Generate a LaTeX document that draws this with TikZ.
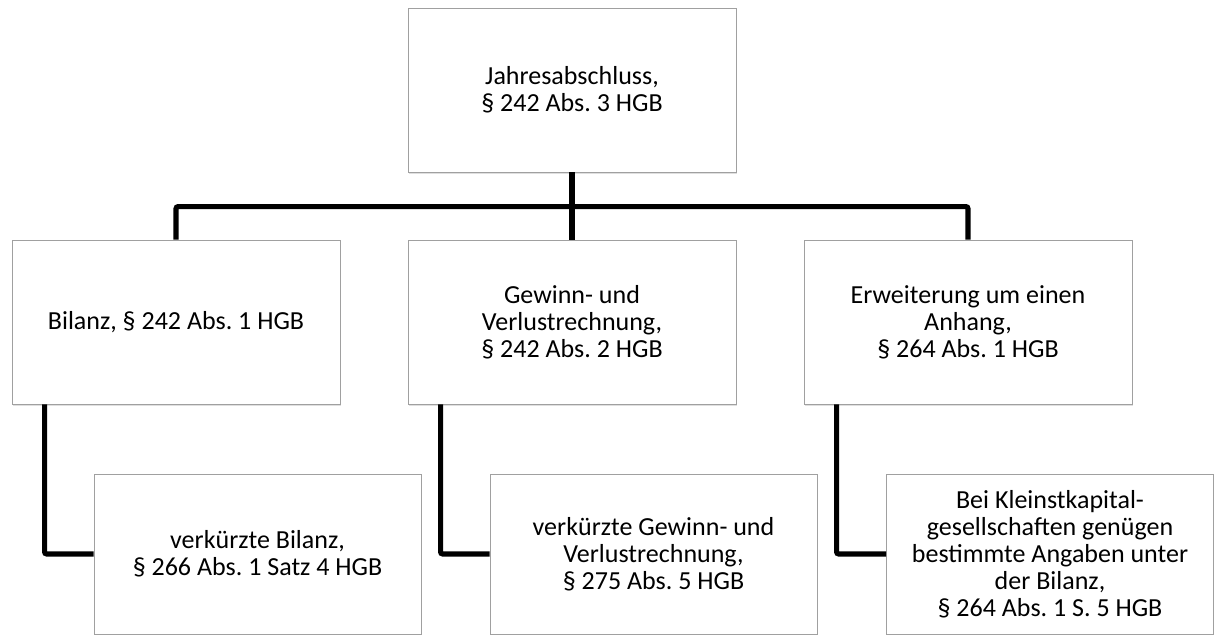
\documentclass[tikz,border=0pt]{standalone}
\usepackage{fontspec}
\setmainfont{Carlito}
\usepackage{tikz}
\usetikzlibrary{shadows}
\frenchspacing

\begin{document}
\begin{tikzpicture}[x=0.025cm,y=-0.025cm,
  kasten/.style={draw={rgb,255:red,160; green,160; blue,160},line width=0.6pt,fill=white,
    drop shadow={shadow xshift=0.6pt,shadow yshift=-1.6pt,opacity=0.25},
    rectangle,inner sep=0pt,minimum width=8.2cm,minimum height=4.1cm,align=center,
    font=\fontsize{18.5}{19.2}\selectfont},
  unterkasten/.style={kasten,minimum width=8.175cm,minimum height=4cm},
  verbinder/.style={draw=black,line width=3.6pt,rounded corners=1.5pt}]

\useasboundingbox (0,0) rectangle (1215,635);

\node [kasten] (jab) at (572,90) {Jahresabschluss,\\ § 242 Abs. 3 HGB};
\node [kasten] (bil) at (176,322) {Bilanz, § 242 Abs. 1 HGB};
\node [kasten] (guv) at (572,322) {Gewinn- und\\ Verlustrechnung,\\ § 242 Abs. 2 HGB};
\node [kasten] (anh) at (968,322) {Erweiterung um einen\\ Anhang,\\ § 264 Abs. 1 HGB};
\node [unterkasten] (vbil) at (257.5,554) {verkürzte Bilanz,\\ § 266 Abs. 1 Satz 4 HGB};
\node [unterkasten] (vguv) at (653.5,554) {verkürzte Gewinn- und\\ Verlustrechnung,\\ § 275 Abs. 5 HGB};
\node [unterkasten] (kkg) at (1050,554) {Bei Kleinstkapital-\\ gesellschaften genügen\\ bestimmte Angaben unter\\ der Bilanz,\\ § 264 Abs. 1 S. 5 HGB};

\draw [verbinder] (jab.south) -- (guv.north);
\draw [verbinder] (bil.north) -- ++(0,-33) -| (anh.north);
\draw [verbinder] ([xshift=0.825cm]bil.south west) |- (vbil.west);
\draw [verbinder] ([xshift=0.825cm]guv.south west) |- (vguv.west);
\draw [verbinder] ([xshift=0.825cm]anh.south west) |- (kkg.west);

\end{tikzpicture}
\end{document}
